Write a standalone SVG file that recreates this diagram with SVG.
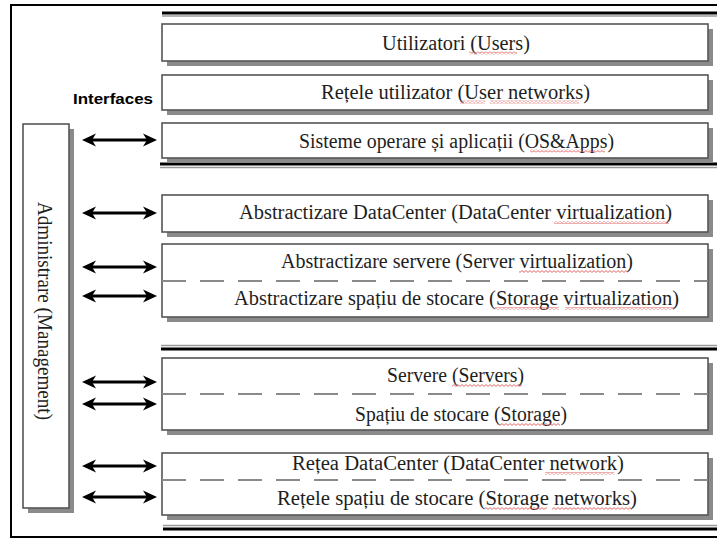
<svg xmlns="http://www.w3.org/2000/svg" xmlns:xlink="http://www.w3.org/1999/xlink" width="717" height="540" viewBox="0 0 717 540">
<style>
  .box { fill: #ffffff; stroke: #555555; stroke-width: 1.6; }
  .shadow { fill: #8a8a8a; }
  .dash { stroke: #8a8a8a; stroke-width: 2; stroke-dasharray: 24 14; fill: none; }
  .lbl { font-family: "Liberation Serif", "Times New Roman", serif; font-size: 20.5px; fill: #1e1e1e; text-anchor: middle; }
  .sp { fill: url(#wave); }
  .rule { stroke: #000; stroke-width: 3; }
  .rule2 { stroke: #9a9a9a; stroke-width: 1.5; }
</style>
<defs>
  <pattern id="wave" patternUnits="userSpaceOnUse" x="0" y="0" width="4" height="3">
    <path d="M0,2.4 L2,0.6 L4,2.4" fill="none" stroke="#e05a5a" stroke-width="0.9"/>
  </pattern>
  <g id="dblarrow">
    <path d="M90,0 H149" stroke="#000" stroke-width="3" fill="none"/>
    <path d="M82,0 L96,-6.5 L92,0 L96,6.5 Z" fill="#000"/>
    <path d="M157,0 L143,-6.5 L147,0 L143,6.5 Z" fill="#000"/>
  </g>
</defs>
<rect x="0" y="0" width="717" height="540" fill="#ffffff"/>
<!-- outer frame -->
<rect x="11" y="5" width="720" height="532" fill="none" stroke="#000" stroke-width="2"/>

<!-- separator rules -->
<g id="rules">
  <line class="rule" x1="162" y1="13" x2="717" y2="13"/>
  <line class="rule2" x1="162" y1="16" x2="717" y2="16"/>
  <line class="rule" x1="160" y1="164" x2="717" y2="164"/>
  <line class="rule2" x1="160" y1="167.5" x2="717" y2="167.5"/>
  <line class="rule2" x1="161" y1="345.5" x2="717" y2="345.5"/>
  <line class="rule" x1="161" y1="349" x2="717" y2="349"/>
  <line class="rule2" x1="163" y1="525.5" x2="717" y2="525.5"/>
  <line class="rule" x1="163" y1="529" x2="717" y2="529"/>
</g>

<g id="management">
  <rect class="shadow" x="28" y="129" width="46" height="384"/>
  <rect class="box" x="23" y="124" width="46" height="384"/>
  <text transform="translate(45,311) rotate(90)" class="lbl" dominant-baseline="central" textLength="218" lengthAdjust="spacingAndGlyphs">Administrare (Management)</text>
</g>

<g id="interfaces-label">
  <text x="73" y="104" font-family="Liberation Sans, Arial, sans-serif" font-weight="bold" font-size="15.5" fill="#000" textLength="80" lengthAdjust="spacingAndGlyphs">Interfaces</text>
</g>

<g id="users">
  <rect class="shadow" x="167" y="29" width="546" height="37"/>
  <rect class="box" x="162" y="24" width="546" height="37"/>
  <text class="lbl" x="456" y="50" textLength="148" lengthAdjust="spacingAndGlyphs">Utilizatori (Users)</text>
  <rect class="sp" x="469" y="51.5" width="48" height="3"/>
</g>

<g id="user-networks">
  <rect class="shadow" x="167" y="80" width="546" height="35"/>
  <rect class="box" x="162" y="75" width="546" height="35"/>
  <text class="lbl" x="455.5" y="99" textLength="269" lengthAdjust="spacingAndGlyphs">Rețele utilizator (User networks)</text>
  <rect class="sp" x="460" y="100.5" width="25" height="3"/>
  <rect class="sp" x="490" y="100.5" width="89" height="3"/>
</g>

<g id="os-apps">
  <rect class="shadow" x="167" y="128" width="546" height="35"/>
  <rect class="box" x="162" y="123" width="546" height="35"/>
  <text class="lbl" x="456.5" y="148" textLength="315" lengthAdjust="spacingAndGlyphs">Sisteme operare și aplicații (OS&amp;Apps)</text>
  <rect class="sp" x="530" y="149.5" width="75" height="3"/>
</g>

<g id="dc-virtualization">
  <rect class="shadow" x="167" y="200" width="546" height="37"/>
  <rect class="box" x="162" y="195" width="546" height="37"/>
  <text class="lbl" x="455.5" y="219" textLength="433" lengthAdjust="spacingAndGlyphs">Abstractizare DataCenter (DataCenter virtualization)</text>
  <rect class="sp" x="554" y="221" width="115" height="3"/>
</g>

<g id="server-storage-virtualization">
  <rect class="shadow" x="167" y="249" width="546" height="73"/>
  <rect class="box" x="162" y="244" width="546" height="73"/>
  <line class="dash" x1="162" y1="281" x2="708" y2="281"/>
  <text class="lbl" x="457" y="268" textLength="352" lengthAdjust="spacingAndGlyphs">Abstractizare servere (Server virtualization)</text>
  <rect class="sp" x="519" y="270" width="108" height="3"/>
  <text class="lbl" x="456.5" y="305" textLength="445" lengthAdjust="spacingAndGlyphs">Abstractizare spațiu de stocare (Storage virtualization)</text>
  <rect class="sp" x="495" y="307" width="64" height="3"/>
  <rect class="sp" x="565" y="307" width="109" height="3"/>
</g>

<g id="servers-storage">
  <rect class="shadow" x="167" y="363" width="546" height="72"/>
  <rect class="box" x="162" y="358" width="546" height="72"/>
  <line class="dash" x1="162" y1="394" x2="708" y2="394"/>
  <text class="lbl" x="455.5" y="382" textLength="137" lengthAdjust="spacingAndGlyphs">Servere (Servers)</text>
  <rect class="sp" x="452" y="384" width="70" height="3"/>
  <text class="lbl" x="461" y="421" textLength="212" lengthAdjust="spacingAndGlyphs">Spațiu de stocare (Storage)</text>
  <rect class="sp" x="500" y="423" width="60" height="3"/>
</g>

<g id="networks">
  <rect class="shadow" x="167" y="458" width="546" height="62"/>
  <rect class="box" x="162" y="453" width="546" height="62"/>
  <line class="dash" x1="162" y1="480" x2="708" y2="480"/>
  <text class="lbl" x="458" y="470" textLength="332" lengthAdjust="spacingAndGlyphs">Rețea DataCenter (DataCenter network)</text>
  <rect class="sp" x="545" y="472" width="69" height="3"/>
  <text class="lbl" x="457" y="505" textLength="360" lengthAdjust="spacingAndGlyphs">Rețele spațiu de stocare (Storage networks)</text>
  <rect class="sp" x="485" y="507" width="62" height="3"/>
  <rect class="sp" x="552" y="507" width="80" height="3"/>
</g>

<g id="connectors">
  <use xlink:href="#dblarrow" x="0" y="140"/>
  <use xlink:href="#dblarrow" x="0" y="213"/>
  <use xlink:href="#dblarrow" x="0" y="267"/>
  <use xlink:href="#dblarrow" x="0" y="296"/>
  <use xlink:href="#dblarrow" x="0" y="382"/>
  <use xlink:href="#dblarrow" x="0" y="404"/>
  <use xlink:href="#dblarrow" x="0" y="466"/>
  <use xlink:href="#dblarrow" x="0" y="497"/>
</g>
</svg>
